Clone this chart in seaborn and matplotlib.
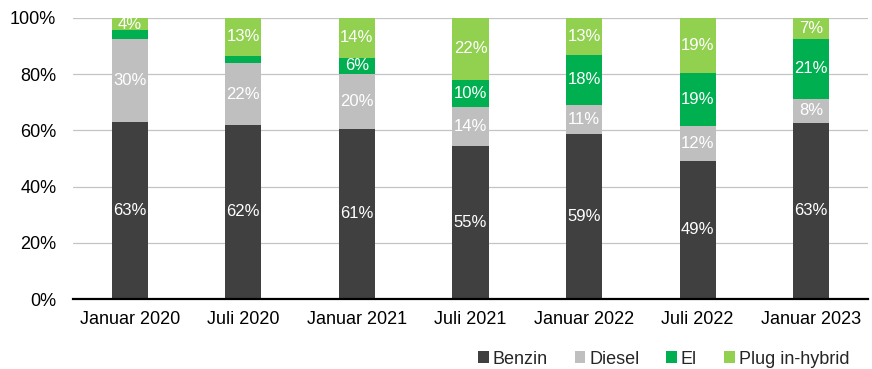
import numpy as np
import pandas as pd
import matplotlib
matplotlib.use("Agg")
import matplotlib.pyplot as plt
from matplotlib.patches import Patch
import seaborn as sns

# Fuel-type shares of new car registrations (percent of total)
periods = ["Januar 2020", "Juli 2020", "Januar 2021", "Juli 2021",
           "Januar 2022", "Juli 2022", "Januar 2023"]
benzin = [63.0, 62.0, 60.6, 54.6, 58.6, 49.2, 62.8]
diesel = [29.6, 21.9, 19.6, 13.6, 10.6, 12.2, 8.4]
el = [3.0, 2.7, 5.6, 9.8, 17.6, 19.2, 21.4]
plug_in = [4.4, 13.4, 14.2, 22.0, 13.2, 19.4, 7.4]

series_names = ["Benzin", "Diesel", "El", "Plug in-hybrid"]
series_values = [benzin, diesel, el, plug_in]
series_colors = ["#404040", "#bfbfbf", "#00b050", "#92d050"]

y_ticks = [0, 20, 40, 60, 80, 100]

sns.set_theme(style="white")
plt.rcParams["font.family"] = ["Liberation Sans", "DejaVu Sans"]

fig = plt.figure(figsize=(8.72, 3.69), dpi=100)
ax = fig.add_axes([73 / 872, 70 / 369, 795 / 872, 281 / 369])

bar_width = 0.317
bottom = np.zeros(len(periods))
for name, vals, color in zip(series_names, series_values, series_colors):
    df = pd.DataFrame({"period": periods, "share": vals})
    sns.barplot(data=df, x="period", y="share", order=periods, color=color,
                width=bar_width, bottom=bottom.copy(), linewidth=0,
                saturation=1, ax=ax, zorder=3)
    bottom += np.array(vals)

# Value labels centred inside each segment
for container, vals in zip(ax.containers, series_values):
    labels = [f"{v:.0f}%" if v >= 4 else "" for v in vals]
    ax.bar_label(container, labels=labels, label_type="center",
                 color="white", fontsize=12)

ax.set_xlim(-0.5, len(periods) - 0.5)
ax.set_ylim(0, 100)
ax.set_yticks(y_ticks)
ax.set_yticklabels([f"{t}%" for t in y_ticks])
ax.set_xlabel("")
ax.set_ylabel("")

ax.yaxis.grid(True, color="#c4c4c4", linewidth=0.9)
ax.xaxis.grid(False)
ax.set_axisbelow(True)

for side in ["top", "right", "left"]:
    ax.spines[side].set_visible(False)
ax.spines["bottom"].set_color("#000000")
ax.spines["bottom"].set_linewidth(1.6)
ax.spines["bottom"].set_zorder(4)

ax.tick_params(axis="y", length=0, pad=12, labelsize=13, labelcolor="#000000")
ax.tick_params(axis="x", length=0, pad=9, labelsize=13, labelcolor="#000000")

handles = [Patch(facecolor=c, edgecolor="none") for c in series_colors]
fig.legend(handles, series_names, loc="center right",
           bbox_to_anchor=(849 / 872, 1 - 359 / 369), ncol=4, frameon=False,
           fontsize=13, handlelength=0.6, handleheight=0.6,
           handletextpad=0.2, columnspacing=1.5, borderaxespad=0,
           borderpad=0)

fig.savefig("out.png", dpi=100)
